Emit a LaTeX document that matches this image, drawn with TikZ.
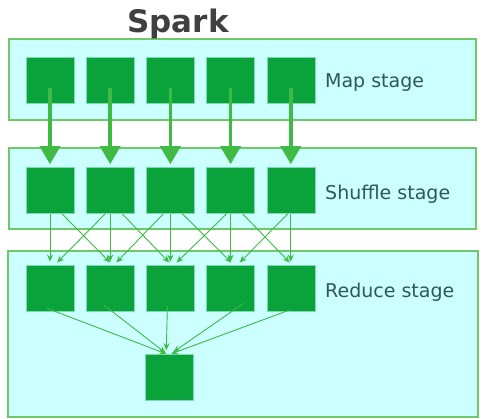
\documentclass[tikz,border=0pt]{standalone}
\usepackage{fontspec}
\setmainfont{DejaVu Sans}
\usepackage{tikz}
\usetikzlibrary{arrows.meta, positioning}

\definecolor{stagefill}{HTML}{CCFFFF}
\definecolor{stageline}{HTML}{70C868}
\definecolor{taskgreen}{HTML}{0AA23A}
\definecolor{flowgreen}{HTML}{3EBA45}
\definecolor{labelgray}{HTML}{305858}
\definecolor{titlegray}{HTML}{404040}

\begin{document}
\begin{tikzpicture}[x=1pt,y=-1pt]
\tikzstyle{every node}+=[inner sep=0pt]
\tikzstyle{stagebox}=[draw=stageline, fill=stagefill, line width=1.2pt]
\tikzstyle{task}=[draw=stagefill!60!taskgreen, line width=0.6pt, fill=taskgreen, minimum width=48pt, minimum height=46pt]
\tikzstyle{stagelabel}=[anchor=west, text=labelgray, font=\fontsize{19}{22}\selectfont]
\tikzstyle{bigflow}=[draw=flowgreen, line width=3.6pt, -{Triangle[width=20pt,length=18pt]}]
\tikzstyle{flow}=[draw=flowgreen, line width=0.9pt, -{Stealth[width=6pt,length=7pt]}]
\useasboundingbox (0,0) rectangle (487,418);
\draw [stagebox] (9,39) rectangle (476,120);
\draw [stagebox] (9,148) rectangle (476,229);
\draw [stagebox] (8,251) rectangle (478,417);
\node [text=titlegray, font=\fontsize{31}{34}\selectfont\bfseries] (title) at (178,24) {Spark};
\node [task] (m1) at (50,80) {};
\node [task, right=11.6pt of m1] (m2) {};
\node [task, right=11.6pt of m2] (m3) {};
\node [task, right=11.6pt of m3] (m4) {};
\node [task, right=11.6pt of m4] (m5) {};
\node [stagelabel] (maplabel) at (325,83) {Map stage};
\node [task] (s1) at (50,190.5) {};
\node [task, right=11.6pt of s1] (s2) {};
\node [task, right=11.6pt of s2] (s3) {};
\node [task, right=11.6pt of s3] (s4) {};
\node [task, right=11.6pt of s4] (s5) {};
\node [stagelabel] (shufflelabel) at (325,194) {Shuffle stage};
\node [task] (r1) at (50,288) {};
\node [task, right=11.6pt of r1] (r2) {};
\node [task, right=11.6pt of r2] (r3) {};
\node [task, right=11.6pt of r3] (r4) {};
\node [task, right=11.6pt of r4] (r5) {};
\node [stagelabel] (reducelabel) at (325,292) {Reduce stage};
\node [task] (final) at (169.2,377.5) {};
\draw [bigflow, shorten <=8pt, shorten >=3pt] (m1.center) -- (s1.north);
\draw [bigflow, shorten <=8pt, shorten >=3pt] (m2.center) -- (s2.north);
\draw [bigflow, shorten <=8pt, shorten >=3pt] (m3.center) -- (s3.north);
\draw [bigflow, shorten <=8pt, shorten >=3pt] (m4.center) -- (s4.north);
\draw [bigflow, shorten <=8pt, shorten >=3pt] (m5.center) -- (s5.north);
\draw [flow, shorten >=3pt] (s1.south) -- (r1.north);
\draw [flow, shorten >=3pt] (s2.south) -- (r2.north);
\draw [flow, shorten >=3pt] (s3.south) -- (r3.north);
\draw [flow, shorten >=3pt] (s4.south) -- (r4.north);
\draw [flow, shorten >=3pt] (s5.south) -- (r5.north);
\draw [flow, shorten >=3pt] ([xshift=12pt]s1.south) -- ([xshift=2pt]r2.north);
\draw [flow, shorten >=3pt] ([xshift=12pt]s2.south) -- ([xshift=1pt]r3.north);
\draw [flow, shorten >=3pt] ([xshift=12pt]s3.south) -- ([xshift=3pt]r4.north);
\draw [flow, shorten >=3pt] ([xshift=12pt]s4.south) -- ([xshift=1pt]r5.north);
\draw [flow, shorten >=3pt] ([xshift=-5pt]s2.south) -- ([xshift=5pt]r1.north);
\draw [flow, shorten >=3pt] ([xshift=-7pt]s3.south) -- ([xshift=4pt]r2.north);
\draw [flow, shorten >=3pt] ([xshift=-4pt]s4.south) -- ([xshift=4pt]r3.north);
\draw [flow, shorten >=3pt] ([xshift=-3pt]s5.south) -- ([xshift=7pt]r4.north);
\draw [flow, shorten >=1pt] ([xshift=-3pt,yshift=3pt]r1.south) -- ([xshift=-2pt]final.north);
\draw [flow, shorten >=2pt] ([xshift=-6pt,yshift=6pt]r2.south) -- ([xshift=-2pt]final.north);
\draw [flow, shorten >=4pt] ([xshift=-3pt,yshift=5pt]r3.south) -- ([xshift=-3pt]final.north);
\draw [flow, shorten >=4pt] ([xshift=13pt,yshift=8pt]r4.south) -- ([xshift=1pt]final.north);
\draw [flow, shorten >=1pt] ([xshift=-2pt,yshift=1pt]r5.south) -- ([xshift=1pt]final.north);
\end{tikzpicture}
\end{document}
